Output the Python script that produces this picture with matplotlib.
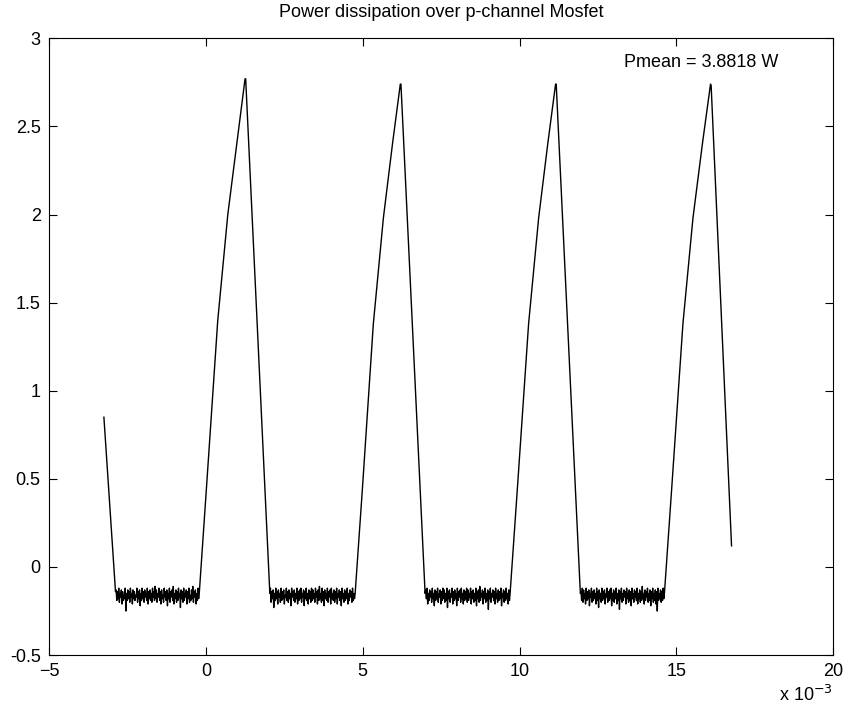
import matplotlib.pyplot as plt
import numpy as np

plt.rcParams['font.family'] = ['Liberation Sans', 'DejaVu Sans']

# time in ms, power in W
# first falling edge (trace starts mid-fall)
start_t = [-3.25, -2.88]
start_p = [0.85, -0.14]

# rising edges (t, p)
rise1_t = [-0.21, 0.02, 0.38, 0.70, 1.00, 1.25]
rise1_p = [-0.15, 0.45, 1.40, 2.00, 2.42, 2.77]
rise2_t = [4.76, 4.99, 5.34, 5.66, 5.95, 6.20]
rise2_p = [-0.15, 0.44, 1.38, 1.98, 2.40, 2.74]
rise3_t = [9.70, 9.93, 10.29, 10.61, 10.90, 11.15]
rise3_p = [-0.15, 0.44, 1.38, 1.98, 2.40, 2.74]
rise4_t = [14.62, 14.85, 15.21, 15.53, 15.83, 16.09]
rise4_p = [-0.15, 0.44, 1.38, 1.98, 2.40, 2.74]

# falling edges (t, p)
fall1_t = [1.27, 2.04]
fall1_p = [2.77, -0.15]
fall2_t = [6.22, 6.99]
fall2_p = [2.74, -0.15]
fall3_t = [11.17, 11.94]
fall3_p = [2.74, -0.15]
fall4_t = [16.11, 16.76]
fall4_p = [2.73, 0.12]

# noisy off-state segments: (start, end) in ms and sampled values
flat_spans = [(-2.86, -0.23), (2.06, 4.74), (7.01, 9.68), (11.96, 14.60)]
noise1 = [-0.13, -0.19, -0.14, -0.18, -0.12, -0.20, -0.15, -0.17, -0.13, -0.21,
          -0.14, -0.19, -0.16, -0.18, -0.12, -0.25, -0.15, -0.19, -0.13, -0.18,
          -0.14, -0.20, -0.12, -0.17, -0.15, -0.21, -0.13, -0.18, -0.14, -0.19,
          -0.16, -0.17, -0.12, -0.20, -0.14, -0.18, -0.13, -0.22, -0.15, -0.19,
          -0.12, -0.18, -0.14, -0.20, -0.13, -0.17, -0.15, -0.19, -0.12, -0.21,
          -0.14, -0.18, -0.13, -0.19, -0.15, -0.20, -0.12, -0.17, -0.14, -0.19,
          -0.11, -0.18, -0.13, -0.20, -0.15, -0.17, -0.12, -0.19, -0.14, -0.21,
          -0.13, -0.18, -0.16, -0.20, -0.12, -0.17, -0.14, -0.19, -0.13, -0.22,
          -0.15, -0.18, -0.12, -0.20, -0.14, -0.17, -0.13, -0.19, -0.11, -0.21,
          -0.15, -0.18, -0.13, -0.20, -0.14, -0.19, -0.12, -0.17, -0.15, -0.23,
          -0.13, -0.18, -0.14, -0.20, -0.12, -0.19, -0.15, -0.17, -0.13, -0.21,
          -0.14, -0.18, -0.12, -0.20, -0.16, -0.19, -0.13, -0.18, -0.11, -0.20,
          -0.14, -0.17, -0.13, -0.21, -0.15, -0.19, -0.12, -0.18]
noise2 = [-0.12, -0.20, -0.14, -0.18, -0.13, -0.23, -0.15, -0.19, -0.12, -0.18,
          -0.14, -0.21, -0.13, -0.17, -0.15, -0.20, -0.12, -0.19, -0.14, -0.18,
          -0.13, -0.21, -0.16, -0.17, -0.12, -0.19, -0.14, -0.20, -0.13, -0.18,
          -0.15, -0.22, -0.12, -0.17, -0.14, -0.19, -0.13, -0.20, -0.15, -0.18,
          -0.12, -0.21, -0.14, -0.19, -0.13, -0.18, -0.12, -0.20, -0.15, -0.17,
          -0.13, -0.22, -0.14, -0.18, -0.12, -0.19, -0.15, -0.21, -0.13, -0.18,
          -0.14, -0.20, -0.12, -0.19, -0.13, -0.18, -0.15, -0.20, -0.12, -0.17,
          -0.14, -0.21, -0.13, -0.19, -0.11, -0.18, -0.15, -0.20, -0.12, -0.19,
          -0.14, -0.22, -0.13, -0.18, -0.15, -0.19, -0.12, -0.20, -0.14, -0.17,
          -0.13, -0.21, -0.12, -0.18, -0.15, -0.19, -0.13, -0.20, -0.14, -0.18,
          -0.12, -0.21, -0.15, -0.17, -0.13, -0.19, -0.14, -0.22, -0.12, -0.18,
          -0.15, -0.20, -0.13, -0.19, -0.14, -0.18, -0.12, -0.21, -0.15, -0.19,
          -0.13, -0.17, -0.14, -0.20, -0.12, -0.19, -0.15, -0.18]
noise3 = [-0.13, -0.18, -0.12, -0.21, -0.15, -0.19, -0.13, -0.17, -0.14, -0.20,
          -0.12, -0.18, -0.15, -0.22, -0.13, -0.19, -0.14, -0.18, -0.12, -0.20,
          -0.15, -0.17, -0.13, -0.21, -0.14, -0.19, -0.12, -0.18, -0.13, -0.20,
          -0.15, -0.19, -0.12, -0.23, -0.14, -0.18, -0.13, -0.20, -0.15, -0.17,
          -0.12, -0.21, -0.14, -0.19, -0.13, -0.18, -0.15, -0.22, -0.12, -0.19,
          -0.14, -0.17, -0.13, -0.20, -0.12, -0.18, -0.15, -0.21, -0.13, -0.19,
          -0.14, -0.18, -0.12, -0.20, -0.13, -0.19, -0.15, -0.17, -0.12, -0.21,
          -0.14, -0.18, -0.13, -0.20, -0.15, -0.19, -0.12, -0.22, -0.14, -0.18,
          -0.13, -0.20, -0.11, -0.19, -0.15, -0.17, -0.13, -0.21, -0.14, -0.18,
          -0.12, -0.20, -0.15, -0.19, -0.13, -0.24, -0.14, -0.18, -0.12, -0.20,
          -0.15, -0.17, -0.13, -0.19, -0.14, -0.21, -0.12, -0.18, -0.15, -0.20,
          -0.13, -0.19, -0.14, -0.18, -0.12, -0.22, -0.15, -0.17, -0.13, -0.20,
          -0.14, -0.19, -0.12, -0.18, -0.15, -0.21, -0.13, -0.19]
noise4 = [-0.14, -0.19, -0.12, -0.20, -0.13, -0.18, -0.15, -0.21, -0.12, -0.19,
          -0.14, -0.18, -0.13, -0.22, -0.15, -0.17, -0.12, -0.20, -0.14, -0.19,
          -0.13, -0.18, -0.15, -0.21, -0.12, -0.19, -0.14, -0.23, -0.13, -0.18,
          -0.15, -0.20, -0.12, -0.19, -0.14, -0.18, -0.13, -0.21, -0.15, -0.17,
          -0.12, -0.20, -0.14, -0.19, -0.13, -0.18, -0.12, -0.22, -0.15, -0.19,
          -0.13, -0.20, -0.14, -0.18, -0.12, -0.21, -0.15, -0.19, -0.13, -0.24,
          -0.14, -0.18, -0.12, -0.20, -0.15, -0.19, -0.13, -0.17, -0.14, -0.21,
          -0.12, -0.18, -0.15, -0.20, -0.13, -0.19, -0.14, -0.22, -0.12, -0.18,
          -0.15, -0.20, -0.13, -0.17, -0.14, -0.19, -0.12, -0.21, -0.15, -0.18,
          -0.13, -0.20, -0.14, -0.19, -0.11, -0.18, -0.15, -0.21, -0.13, -0.19,
          -0.14, -0.17, -0.12, -0.20, -0.15, -0.19, -0.13, -0.22, -0.14, -0.18,
          -0.12, -0.20, -0.15, -0.19, -0.13, -0.21, -0.14, -0.25, -0.12, -0.19,
          -0.15, -0.18, -0.13, -0.20, -0.14, -0.19, -0.12, -0.18]

x_ticks = [-5, 0, 5, 10, 15, 20]
y_ticks = [-0.5, 0, 0.5, 1, 1.5, 2, 2.5, 3]
p_mean = 3.8818

# assemble the trace in time order
noises = [noise1, noise2, noise3, noise4]
flats_t = [list(np.linspace(a, b, len(n))) for (a, b), n in zip(flat_spans, noises)]

t = (start_t + flats_t[0] + rise1_t + fall1_t + flats_t[1] + rise2_t + fall2_t
     + flats_t[2] + rise3_t + fall3_t + flats_t[3] + rise4_t + fall4_t)
p = (start_p + noise1 + rise1_p + fall1_p + noise2 + rise2_p + fall2_p
     + noise3 + rise3_p + fall3_p + noise4 + rise4_p + fall4_p)

fig = plt.figure(figsize=(8.45, 7.09), dpi=100)
ax = fig.add_axes([0.058, 0.076, 0.928, 0.870])

ax.plot(t, p, color='black', linewidth=1.0)

ax.set_xlim(-5, 20)
ax.set_ylim(-0.5, 3)
ax.set_xticks(x_ticks)
ax.set_yticks(y_ticks)
ax.set_yticklabels(['%g' % v for v in y_ticks])
ax.tick_params(direction='in', top=True, right=True, length=6, width=0.8,
               labelsize=13, pad=6)
for s in ax.spines.values():
    s.set_linewidth(0.8)

ax.set_title('Power dissipation over p-channel Mosfet', fontsize=13, pad=15)
ax.text(15.8, 2.86, 'Pmean = %.4f W' % p_mean, ha='center', va='center', fontsize=13)
fig.text(833 / 845, 1 - 695 / 709, r'x 10$^{-3}$', ha='right', va='center', fontsize=13)

plt.savefig('out.png', dpi=100)
